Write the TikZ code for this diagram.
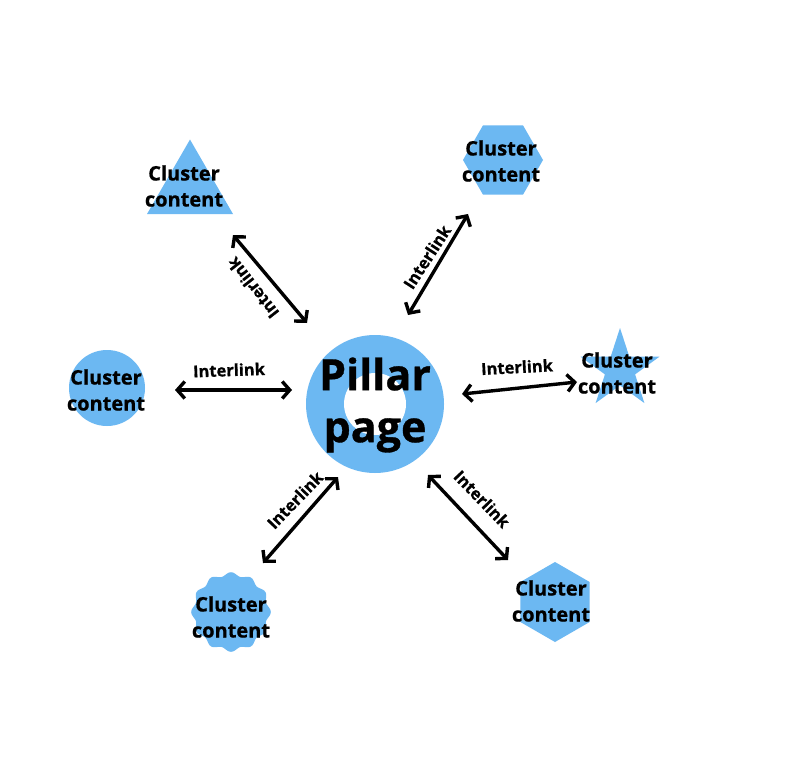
\documentclass[tikz,border=0pt]{standalone}
\usepackage{fontspec}
\setmainfont{Open Sans}[BoldFeatures={FakeBold=0.8}]
\usetikzlibrary{shapes.geometric,arrows.meta}
\definecolor{shapeblue}{RGB}{108,184,242}
\begin{document}
\begin{tikzpicture}[x=1pt,y=-1pt,
  shapebox/.style={fill=shapeblue,draw=none,inner sep=0pt,outer sep=0pt},
  ctext/.style={align=center,font=\fontsize{20}{26}\selectfont\bfseries,text=black,inner sep=0pt},
  ltext/.style={font=\fontsize{16.5}{20}\selectfont\bfseries,inner sep=0pt},
  link/.style={line width=3.4pt,{Straight Barb[length=7.5pt,width=17pt]}-{Straight Barb[length=7.5pt,width=17pt]}}
]
\useasboundingbox[fill=white] (0,0) rectangle (800,770);

% pillar ring
\node[circle,shapebox,minimum size=138] (pillar) at (375,404) {};
\node[circle,fill=white,inner sep=0pt,minimum size=62] (hole) at (375,404) {};
\node[align=center,inner sep=0pt,font=\fontsize{43}{52}\selectfont\bfseries] (ptext) at (375,405) {Pillar\\page};

% cluster shapes
\node[regular polygon,regular polygon sides=3,minimum size=99.3,shapebox] (c1) at (190,189.2) {};
\node[regular polygon,regular polygon sides=6,minimum size=80,shapebox] (c2) at (503,160) {};
\node[circle,minimum size=76,shapebox] (c3) at (107,388) {};
\node[star,star points=5,star point ratio=2.618,minimum size=83,shapebox] (c4) at (620,369.5) {};
\node[circle,minimum size=76,inner sep=0pt] (c5) at (231,612) {};
\fill[shapeblue] plot[domain=0:357,samples=120] ({231+(38+1.8*cos(12*\x))*cos(\x)},{612+(38+1.8*cos(12*\x))*sin(\x)}) -- cycle;
\node[regular polygon,regular polygon sides=6,shape border rotate=30,minimum size=80,shapebox] (c6) at (555,602) {};

% cluster texts
\node[ctext] (t1) at (184,186) {Cluster\\content};
\node[ctext] (t2) at (501,161) {Cluster\\content};
\node[ctext] (t3) at (106,390) {Cluster\\content};
\node[ctext] (t4) at (617,373) {Cluster\\content};
\node[ctext] (t5) at (231,617) {Cluster\\content};
\node[ctext] (t6) at (551,601) {Cluster\\content};

% arrow end points
\coordinate (a1s) at (233,235); \coordinate (a1e) at (307,323);
\coordinate (a2s) at (468,214); \coordinate (a2e) at (408,315);
\coordinate (a3s) at (175,390); \coordinate (a3e) at (292,390);
\coordinate (a4s) at (577,382); \coordinate (a4e) at (462,394);
\coordinate (a5s) at (263,563); \coordinate (a5e) at (338,477);
\coordinate (a6s) at (508,560); \coordinate (a6e) at (428,475);

\draw[link] (a1s) -- (a1e);
\draw[link] (a2s) -- (a2e);
\draw[link] (a3s) -- (a3e);
\draw[link] (a4s) -- (a4e);
\draw[link] (a5s) -- (a5e);
\draw[link] (a6s) -- (a6e);

% labels
\node[ltext,rotate=128] (l1) at (253,288) {Interlink};
\node[ltext,rotate=57] (l2) at (427,257) {Interlink};
\node[ltext,rotate=2] (l3) at (229,370) {Interlink};
\node[ltext,rotate=3] (l4) at (517,367) {Interlink};
\node[ltext,rotate=46] (l5) at (295,500) {Interlink};
\node[ltext,rotate=-46] (l6) at (482,499) {Interlink};
\end{tikzpicture}
\end{document}
